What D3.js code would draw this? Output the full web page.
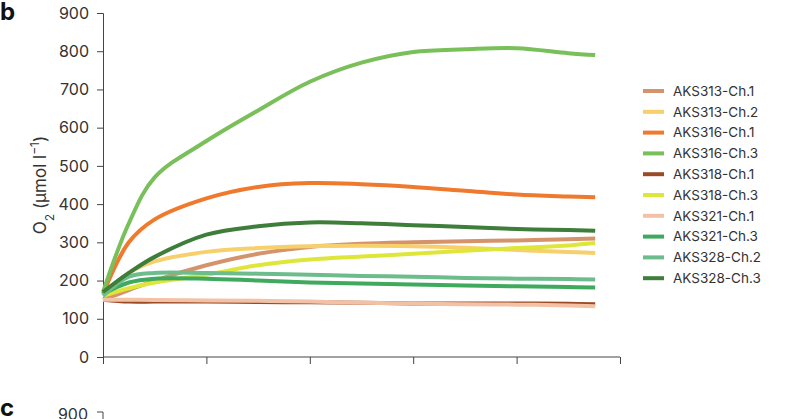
<!DOCTYPE html>
<html><head><meta charset="utf-8">
<script src="https://cdn.jsdelivr.net/npm/d3@7"></script>
<style>body{margin:0;background:#fff}text{font-family:Inter,"Noto Sans",sans-serif;fill:#333}</style>
</head><body>
<script>
var xs = [0, 0.25, 0.5, 1, 1.5, 2, 2.5, 3, 3.5, 4, 4.5, 4.76];
var names = ["AKS313-Ch.1","AKS313-Ch.2","AKS316-Ch.1","AKS316-Ch.3","AKS318-Ch.1","AKS318-Ch.3","AKS321-Ch.1","AKS321-Ch.3","AKS328-Ch.2","AKS328-Ch.3"];
var colors = ["#d4936a","#f7cf6b","#ef7a2e","#79bf5a","#9a4a25","#dfe63a","#f2c1a6","#3faa5e","#6dbd8c","#3e7d3a"];
var aks313ch1 = [150,175,200,240,270,288,296,300,303,305,308,310];
var aks313ch2 = [165,220,250,275,285,290,291,290,286,280,275,272];
var aks316ch1 = [165,300,360,415,445,455,452,445,435,425,420,418];
var aks316ch3 = [170,350,470,565,645,720,770,798,805,808,795,790];
var aks318ch1 = [150,145,145,145,144,143,142,140,140,140,139,138];
var aks318ch3 = [160,180,195,215,240,255,263,270,278,285,292,298];
var aks321ch1 = [150,150,149,148,147,145,142,140,138,137,135,133];
var aks321ch3 = [165,195,205,205,200,195,192,190,187,185,183,182];
var aks328ch2 = [160,210,220,220,218,215,212,210,207,205,204,203];
var aks328ch3 = [170,220,262,320,342,352,350,345,340,335,332,330];
var series = [aks313ch1,aks313ch2,aks316ch1,aks316ch3,aks318ch1,aks318ch3,aks321ch1,aks321ch3,aks328ch2,aks328ch3];
var yTicks = [0,100,200,300,400,500,600,700,800,900];
var xTicks = [0,1,2,3,4,5];

var svg = d3.select("body").append("svg").attr("width",800).attr("height",419);
var x = d3.scaleLinear().domain([0,5]).range([103,620]);
var y = d3.scaleLinear().domain([0,900]).range([357,13]);

var ya = svg.append("g").attr("transform","translate(103,0)")
  .call(d3.axisLeft(y).tickValues(yTicks).tickSize(6).tickPadding(8));
ya.selectAll("text").style("font-size","16px");
ya.selectAll("line,path").attr("stroke","#444");
var xa = svg.append("g").attr("transform","translate(0,357)")
  .call(d3.axisBottom(x).tickValues(xTicks).tickSize(7).tickFormat(""));
xa.select(".domain").attr("d","M103,0H620");
xa.selectAll("line,path").attr("stroke","#444");

var line = d3.line().x(function(d,i){return x(xs[i]);}).y(function(d){return y(d);}).curve(d3.curveCatmullRom);
svg.selectAll(".s").data(series).enter().append("path")
  .attr("d",line).attr("fill","none")
  .attr("stroke",function(d,i){return colors[i];}).attr("stroke-width",4);

var yl = svg.append("text").attr("transform","translate(46,185) rotate(-90)")
  .attr("text-anchor","middle").style("font-size","17px");
yl.append("tspan").text("O");
yl.append("tspan").attr("baseline-shift","sub").style("font-size","12px").text("2");
yl.append("tspan").text(" (µmol l");
yl.append("tspan").attr("baseline-shift","super").style("font-size","12px").text("−1");
yl.append("tspan").text(")");

var lg = svg.selectAll(".lg").data(names).enter().append("g")
  .attr("transform",function(d,i){return "translate(643,"+(91+i*20.8)+")";});
lg.append("line").attr("x2",21).attr("stroke",function(d,i){return colors[i];}).attr("stroke-width",4);
lg.append("text").attr("x",30).attr("dy","0.35em").style("font-size","13.5px").text(function(d){return d;});

svg.append("text").attr("x",0).attr("y",20).style("font-size","24px").style("font-weight","bold").style("fill","#111").text("b");
svg.append("text").attr("x",0).attr("y",416).style("font-size","24px").style("font-weight","bold").style("fill","#111").text("c");
svg.append("text").attr("x",88).attr("y",420).attr("text-anchor","end").style("font-size","16px").text("900");
svg.append("path").attr("d","M97,412H103V419").attr("fill","none").attr("stroke","#444");
</script>
</body></html>
